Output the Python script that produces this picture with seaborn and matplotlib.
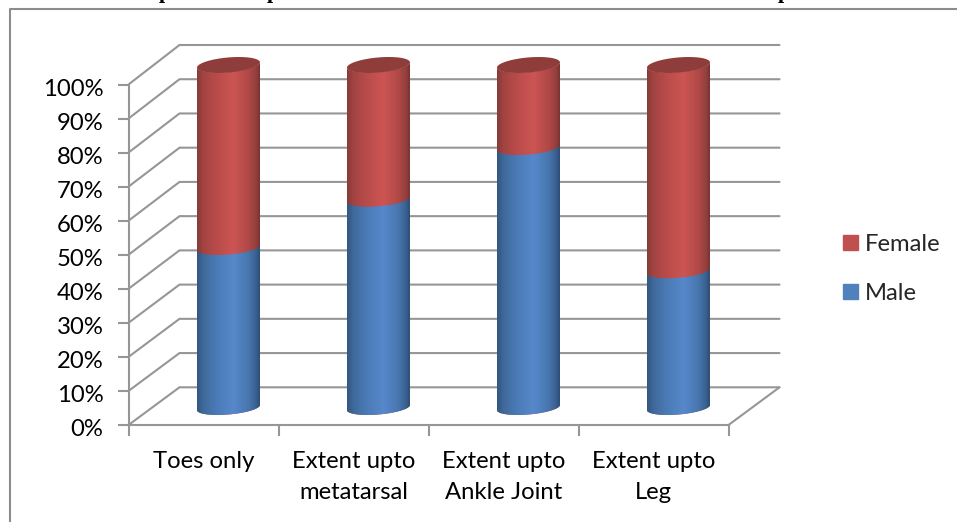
import numpy as np
import pandas as pd
import seaborn as sns
import matplotlib
matplotlib.use("Agg")
import matplotlib.pyplot as plt
from matplotlib.colors import LinearSegmentedColormap
from matplotlib.patches import PathPatch, Rectangle
from matplotlib.path import Path
from matplotlib.transforms import ScaledTranslation

categories = ["Toes only", "Extent upto\nmetatarsal", "Extent upto\nAnkle Joint", "Extent upto\nLeg"]
male = [46.7, 60.8, 75.9, 39.9]
female = [53.3, 39.2, 24.1, 60.1]
percent_ticks = list(range(0, 101, 10))

W, H = 957, 522
GREY = "#969696"
FONT = "Lato"
LABEL_SIZE = 17.2
sns.set_theme(style="white")
plt.rcParams["font.family"] = FONT

fig = plt.figure(figsize=(W / 100, H / 100), dpi=100, facecolor="white")


def px_axes(left, right, top, bottom):
    return fig.add_axes([left / W, 1 - bottom / H, (right - left) / W, (bottom - top) / H])


# Outer chart border: top and left edges only
fig.add_artist(plt.Line2D([957 / W, 9.5 / W, 9.5 / W], [1 - 9 / H, 1 - 9 / H, 0],
                          color="#8c8c8c", lw=1.5))
# Descenders of the caption line above the chart
for xp in (165, 273, 784):
    fig.text(xp / W, 1 + 2 / H, "p", family="Liberation Serif", fontsize=16,
             color="black", ha="center", va="baseline", weight="bold")

# Front plane of the 3-D box: carries the axes, ticks and labels
box = px_axes(128.5, 728.5, 84.5, 425)
box.set_xlim(-0.5, 3.5)
box.set_ylim(0, 100)
box.patch.set_alpha(0)
for side in ("top", "right"):
    box.spines[side].set_visible(False)
for side in ("left", "bottom"):
    box.spines[side].set_color(GREY)
    box.spines[side].set_linewidth(1.5)
box.set_yticks(percent_ticks)
box.set_yticklabels([f"{v}%" for v in percent_ticks], fontsize=LABEL_SIZE, color="black")
box.set_xticks(range(len(categories)))
box.set_xticklabels(categories, fontsize=LABEL_SIZE, color="black", linespacing=1.58)
box.set_xticks(np.arange(-0.5, 4, 1), minor=True)
box.tick_params(axis="y", length=8, width=1.5, color=GREY, pad=10, left=True)
box.tick_params(axis="x", which="major", length=0, pad=18.5)
box.tick_params(axis="x", which="minor", length=8, width=1.5, color=GREY, bottom=True)
# The percent labels sit slightly below their ticks
for label in box.get_yticklabels():
    label.set_transform(label.get_transform() + ScaledTranslation(0, -2 / 72, fig.dpi_scale_trans))

# Back wall and side wall gridlines, offset by the box depth
depth_x = 51 / 150
depth_y = 37.7 / 3.405
wall_scale = 34.23 / 34.05
for v in percent_ticks:
    back = v * wall_scale + depth_y
    box.plot([-0.5, -0.5 + depth_x, 3.5 + depth_x], [v, back, back], color=GREY,
             lw=1.5, clip_on=False, zorder=1, solid_joinstyle="miter")
box.plot([3.5, 3.5 + depth_x], [0, depth_y], color=GREY, lw=1.5, clip_on=False, zorder=1)

# Mid-depth plane holding the cylinders
bars = px_axes(0, W, 0, H)
bars.patch.set_alpha(0)
table = pd.DataFrame({"category": categories, "male": male,
                      "total": np.add(male, female)})
sns.barplot(table, x="category", y="total", color="#C0504D", width=0.42,
            saturation=1, ax=bars, order=categories)
sns.barplot(table, x="category", y="male", color="#4F81BD", width=0.42,
            saturation=1, ax=bars, order=categories)
px_x, px_y = 150, 3.425
bars.set_axis_off()

SEMI_Y = 7.0 / px_y
SKEW = 2.6 / px_y
blue_map = LinearSegmentedColormap.from_list(
    "b", [(0, "#33567F"), (0.1, "#3F699A"), (0.3, "#4A7AB5"), (0.58, "#5688CB"),
          (0.82, "#4776AE"), (0.94, "#3A6090"), (1, "#2C4D75")])
red_map = LinearSegmentedColormap.from_list(
    "r", [(0, "#873A38"), (0.1, "#A24442"), (0.3, "#B84B4A"), (0.58, "#CC5553"),
          (0.82, "#B04947"), (0.94, "#943F3D"), (1, "#793230")])
ramp = np.linspace(0, 1, 256).reshape(1, -1)


def arc(cx, cy, half, t0, t1):
    t = np.linspace(t0, t1, 60)
    return np.column_stack([cx + half * np.cos(t),
                            cy + SEMI_Y * np.sin(t) + SKEW * np.cos(t)])


def shade(rect, cmap, z):
    """Replace a flat bar by a shaded cylinder segment with curved ends."""
    x0, w = rect.get_x(), rect.get_width()
    y0, h = rect.get_y(), rect.get_height()
    cx, half = x0 + w / 2, w / 2
    lower = arc(cx, y0, half, np.pi, 2 * np.pi)
    upper = arc(cx, y0 + h, half, 2 * np.pi, np.pi)
    verts = np.vstack([lower, upper, lower[:1]])
    outline = Path(verts, closed=True)
    rect.set_visible(False)
    im = bars.imshow(ramp, cmap=cmap, aspect="auto", zorder=z, vmin=0, vmax=1,
                     extent=(x0, x0 + w, y0 - 3, y0 + h + 3), interpolation="bilinear")
    im.set_clip_path(PathPatch(outline, transform=bars.transData))
    return cx, half, y0 + h


# Seaborn adds the total bars first, the male bars after them
patches = list(bars.patches)
n = len(categories)
for rect in patches[:n]:
    cx, half, top = shade(rect, red_map, 3)
    t = np.linspace(0, 2 * np.pi, 120)
    lid = np.column_stack([cx + half * np.cos(t),
                           top + SEMI_Y * 1.08 * np.sin(t) + SKEW * np.cos(t)])
    bars.add_patch(plt.Polygon(lid, closed=True, facecolor="#8F3D3B", edgecolor="none", zorder=5))
for rect in patches[n:]:
    shade(rect, blue_map, 4)
bars.set_xlim(-228.5 / px_x, (W - 228.5) / px_x)
bars.set_ylim(-(H - 407.5) / px_y, 407.5 / px_y)

handles = [Rectangle((0, 0), 1, 1, color="#C0504D"), Rectangle((0, 0), 1, 1, color="#4F81BD")]
fig.legend(handles, ["Female", "Male"], frameon=False, fontsize=LABEL_SIZE, handlelength=0.63,
           handleheight=0.63, handletextpad=0.3, labelspacing=1.17, loc="center left",
           bbox_to_anchor=(843 / W, 1 - 269 / H), borderaxespad=0, borderpad=0)

fig.savefig("out.png", dpi=100, facecolor="white")
